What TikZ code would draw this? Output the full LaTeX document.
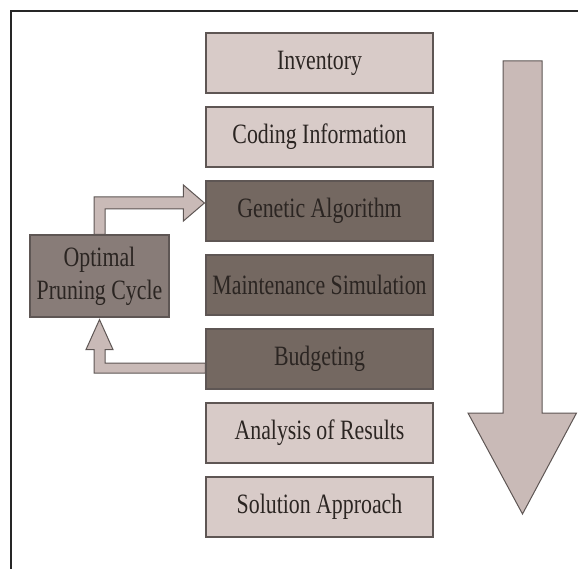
\documentclass[tikz,border=0pt]{standalone}
\usepackage{fontspec}
\setmainfont{Liberation Serif}
\newfontfamily\boxfont[FakeStretch=0.78]{Liberation Serif}
\usetikzlibrary{calc}
\definecolor{lightfill}{HTML}{D8CBC8}
\definecolor{darkfill}{HTML}{746861}
\definecolor{midfill}{HTML}{887C78}
\definecolor{arrowfill}{HTML}{C9BAB7}
\definecolor{edgecol}{HTML}{5E5654}
\definecolor{txt}{HTML}{2B2522}
\begin{document}
\begin{tikzpicture}[x=1pt,y=-1pt,
  stepbox/.style={rectangle, draw=edgecol, line width=1.2pt, minimum width=227pt, minimum height=60pt, inner sep=0pt, font=\boxfont\fontsize{28}{33}\selectfont, text=txt},
  lightbox/.style={stepbox, fill=lightfill},
  darkbox/.style={stepbox, fill=darkfill},
  blockarrow/.style={draw=edgecol, line width=1pt, fill=arrowfill, line join=miter}]
\useasboundingbox (0,0) rectangle (578,569);
\draw[line width=1.5pt, color=black!85] (11,569) -- (11,11) -- (578,11);

\node[lightbox] (inv) at (319.5,63) {Inventory};
\node[lightbox] (cod) at (319.5,137) {Coding Information};
\node[darkbox] (gen) at (319.5,211) {Genetic Algorithm};
\node[darkbox] (mai) at (319.5,285) {Maintenance Simulation};
\node[darkbox] (bud) at (319.5,359) {Budgeting};
\node[lightbox] (ana) at (319.5,433) {Analysis of Results};
\node[lightbox] (sol) at (319.5,507) {Solution Approach};
\node[stepbox, fill=midfill, minimum width=139pt, minimum height=82pt, align=center] (opt) at (99.5,276) {Optimal\\Pruning Cycle};

% connector: Optimal Pruning Cycle -> Genetic Algorithm
\draw[blockarrow] let \p1=(opt.north), \p2=(gen.west) in
  (\x1-5.5pt,\y1) -- (\x1-5.5pt,\y2+14pt) -- (\x2-22pt,\y2+14pt) -- (\x2-22pt,\y2+26pt)
  -- (\x2-1pt,\y2+8pt) -- (\x2-22pt,\y2-10pt) -- (\x2-22pt,\y2+2pt) -- (\x1+5.5pt,\y2+2pt)
  -- (\x1+5.5pt,\y1) -- cycle;

% connector: Budgeting -> Optimal Pruning Cycle
\draw[blockarrow] let \p1=(opt.south), \p2=(bud.west) in
  (\x2,\y2-4pt) -- (\x1+5.5pt,\y2-4pt) -- (\x1+5.5pt,\y1-32pt) -- (\x1+13.5pt,\y1-32pt)
  -- (\x1,\y1-2pt) -- (\x1-13.5pt,\y1-32pt) -- (\x1-5.5pt,\y1-32pt) -- (\x1-5.5pt,\y2-14pt)
  -- (\x2,\y2-14pt) -- cycle;

% big downward arrow
\draw[blockarrow] (503,61) -- (542,61) -- (542,413) -- (576.5,413) -- (522.5,514)
  -- (468,413) -- (503,413) -- cycle;
\end{tikzpicture}
\end{document}
